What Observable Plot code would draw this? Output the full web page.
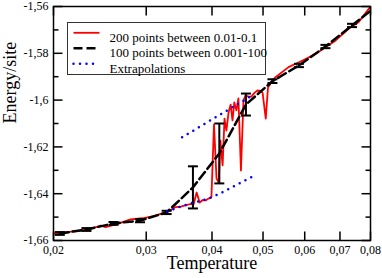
<!DOCTYPE html>
<html><head><meta charset="utf-8">
<script src="https://cdn.jsdelivr.net/npm/d3@7"></script>
<script src="https://cdn.jsdelivr.net/npm/@observablehq/plot@0.6"></script>
<style>body{margin:0;background:#fff} svg text{font-family:"Liberation Serif","Times New Roman","DejaVu Serif",Times,serif !important;}</style>
</head><body><div id="chart"></div>
<script>
// Red: 200 points between 0.01-0.1
const redT = [0.0200,0.0209,0.0222,0.0235,0.0246,0.0251,0.0265,0.0280,0.0295,0.0310,0.0324,0.0334,0.0341,0.0349,0.0356,0.0364,0.0369,0.0374,0.0379,0.0384,0.0389,0.0394,0.0399,0.04035,0.0408,0.0412,0.0415,0.0419,0.04225,0.0426,0.0430,0.0434,0.04375,0.0441,0.0445,0.0449,0.0454,0.0459,0.0463,0.0469,0.0475,0.0482,0.0488,0.0495,0.0499,0.0506,0.0511,0.0519,0.0528,0.0559,0.0589,0.0610,0.0637,0.0657,0.0687,0.0727,0.0759,0.0800];
const redE = [-1.6571,-1.6565,-1.6560,-1.6550,-1.6536,-1.6543,-1.6529,-1.6510,-1.6505,-1.6496,-1.6482,-1.6470,-1.6457,-1.6455,-1.6450,-1.6444,-1.6446,-1.6395,-1.6438,-1.6427,-1.6429,-1.6421,-1.6414,-1.6104,-1.6335,-1.6352,-1.6173,-1.6279,-1.6079,-1.6130,-1.6053,-1.6019,-1.6087,-1.6010,-1.6044,-1.5993,-1.6301,-1.6002,-1.5980,-1.5985,-1.5985,-1.5968,-1.5959,-1.5961,-1.5968,-1.6079,-1.5946,-1.5923,-1.5902,-1.5859,-1.5835,-1.5818,-1.5795,-1.5774,-1.5745,-1.5695,-1.5667,-1.5600];
// Black: 100 points between 0.001-100 (with error bars)
const blackT = [0.02056,0.0231,0.0260,0.0292,0.0328,0.0368,0.0413,0.0464,0.0521,0.0585,0.0657,0.0738,0.0829];
const blackE = [-1.6570,-1.6553,-1.6527,-1.6515,-1.6480,-1.6373,-1.6228,-1.6019,-1.5919,-1.5852,-1.5771,-1.5681,-1.5591];
const blackErr = [0.0006,0.0006,0.0006,0.0007,0.0007,0.0090,0.0128,0.0047,0.0008,0.0007,0.0007,0.0007,null];
// Extrapolations
const upT = [0.0351,0.0408,0.0473];
const upE = [-1.6159,-1.6071,-1.5985];
const lowT = [0.0329,0.0348,0.0366,0.0393,0.0418,0.0447,0.0475];
const lowE = [-1.6476,-1.6456,-1.6440,-1.6422,-1.6395,-1.6360,-1.6329];
// Ticks
const xTicks = [0.02,0.03,0.04,0.05,0.06,0.07,0.08];
const yMajor = [-1.66,-1.64,-1.62,-1.60,-1.58,-1.56];
const yMinor = [-1.65,-1.63,-1.61,-1.59,-1.57];
const legendLabels = ["200 points between 0.01-0.1","100 points between 0.001-100","Extrapolations"];

const red = redT.map((t,i)=>({T:t,E:redE[i]}));
const black = blackT.map((t,i)=>({T:t,E:blackE[i],err:blackErr[i]}));
const bars = black.filter(d=>d.err!=null);
const up = upT.map((t,i)=>({T:t,E:upE[i]}));
const low = lowT.map((t,i)=>({T:t,E:lowE[i]}));

const FF = "'Liberation Serif','Times New Roman','DejaVu Serif',Times,serif";
const fmt = d => String(+d.toFixed(2)).replace(".", ",");
const seg = (x1,y1,x2,y2) => ({draw(ctx){ctx.moveTo(x1,y1);ctx.lineTo(x2,y2);}});
const tk = (data, opts) => Plot.dot(data, {fill:"none", stroke:"black", strokeWidth:1.5, ...opts});

const rows = [26.3, 41.7, 57.3];

const chart = Plot.plot({
  width: 382, height: 278,
  marginLeft: 53, marginRight: 12, marginTop: 6, marginBottom: 38,
  style: {fontFamily: FF, fontSize: "12px", background: "white", color: "black"},
  x: {type: "log", domain: [0.02, 0.08]},
  y: {domain: [-1.66, -1.56]},
  marks: [
    Plot.line(red, {x:"T", y:"E", stroke:"#ff0000", strokeWidth:1.8, clip:true}),
    Plot.line(black, {x:"T", y:"E", stroke:"black", strokeWidth:2.5, strokeDasharray:"9,4", clip:true}),
    Plot.ruleX(bars, {x:"T", y1:d=>d.E-d.err, y2:d=>d.E+d.err, stroke:"black", strokeWidth:2}),
    tk(bars, {x:"T", y:d=>d.E-d.err, symbol: seg(-5,0,5,0), strokeWidth:2}),
    tk(bars, {x:"T", y:d=>d.E+d.err, symbol: seg(-5,0,5,0), strokeWidth:2}),
    Plot.line(up, {x:"T", y:"E", stroke:"#0000ff", strokeWidth:2.5, strokeDasharray:"0,6.5", strokeLinecap:"round"}),
    Plot.line(low, {x:"T", y:"E", stroke:"#0000ff", strokeWidth:2.5, strokeDasharray:"0,6.5", strokeLinecap:"round"}),
    Plot.frame({stroke:"black", strokeWidth:1.5}),
    tk(xTicks, {x:d=>d, frameAnchor:"bottom", symbol: seg(0,0,0,-9)}),
    tk(xTicks, {x:d=>d, frameAnchor:"top", symbol: seg(0,0,0,9)}),
    tk(yMajor, {y:d=>d, frameAnchor:"left", symbol: seg(0,0,9,0)}),
    tk(yMajor, {y:d=>d, frameAnchor:"right", symbol: seg(0,0,-9,0)}),
    tk(yMinor, {y:d=>d, frameAnchor:"left", symbol: seg(0,0,5,0)}),
    tk(yMinor, {y:d=>d, frameAnchor:"right", symbol: seg(0,0,-5,0)}),
    Plot.axisX({ticks: xTicks, tickSize: 0, tickPadding: 4.5, tickFormat: fmt, label: null, fontSize: 12}),
    Plot.axisY({ticks: yMajor, tickSize: 0, tickPadding: 5, tickFormat: fmt, label: null, fontSize: 12}),
    Plot.text(["Temperature"], {frameAnchor:"bottom", dy:28.5, fontSize:18}),
    Plot.text(["Energy/site"], {frameAnchor:"left", dx:-43, rotate:-90, fontSize:18}),
    // legend
    Plot.frame({fill:"white", stroke:"#333", strokeWidth:1, insetLeft:14, insetTop:16, insetRight:105, insetBottom:166}),
    tk([0], {frameAnchor:"top-left", dx:20, dy:rows[0], symbol: seg(0,0,26,0), stroke:"#ff0000", strokeWidth:1.8}),
    tk([0], {frameAnchor:"top-left", dx:20, dy:rows[1], symbol: seg(0,0,26,0), stroke:"black", strokeWidth:2.5, strokeDasharray:"9,4"}),
    tk([0], {frameAnchor:"top-left", dx:20, dy:rows[2], symbol: seg(0,0,26,0), stroke:"#0000ff", strokeWidth:2.5, strokeDasharray:"0,6.5", strokeLinecap:"round"}),
    Plot.text([legendLabels[0]], {frameAnchor:"top-left", dx:56, dy:rows[0], textAnchor:"start", fontSize:13}),
    Plot.text([legendLabels[1]], {frameAnchor:"top-left", dx:56, dy:rows[1], textAnchor:"start", fontSize:13}),
    Plot.text([legendLabels[2]], {frameAnchor:"top-left", dx:56, dy:rows[2], textAnchor:"start", fontSize:13})
  ]
});
document.getElementById("chart").appendChild(chart);
</script>
</body></html>
